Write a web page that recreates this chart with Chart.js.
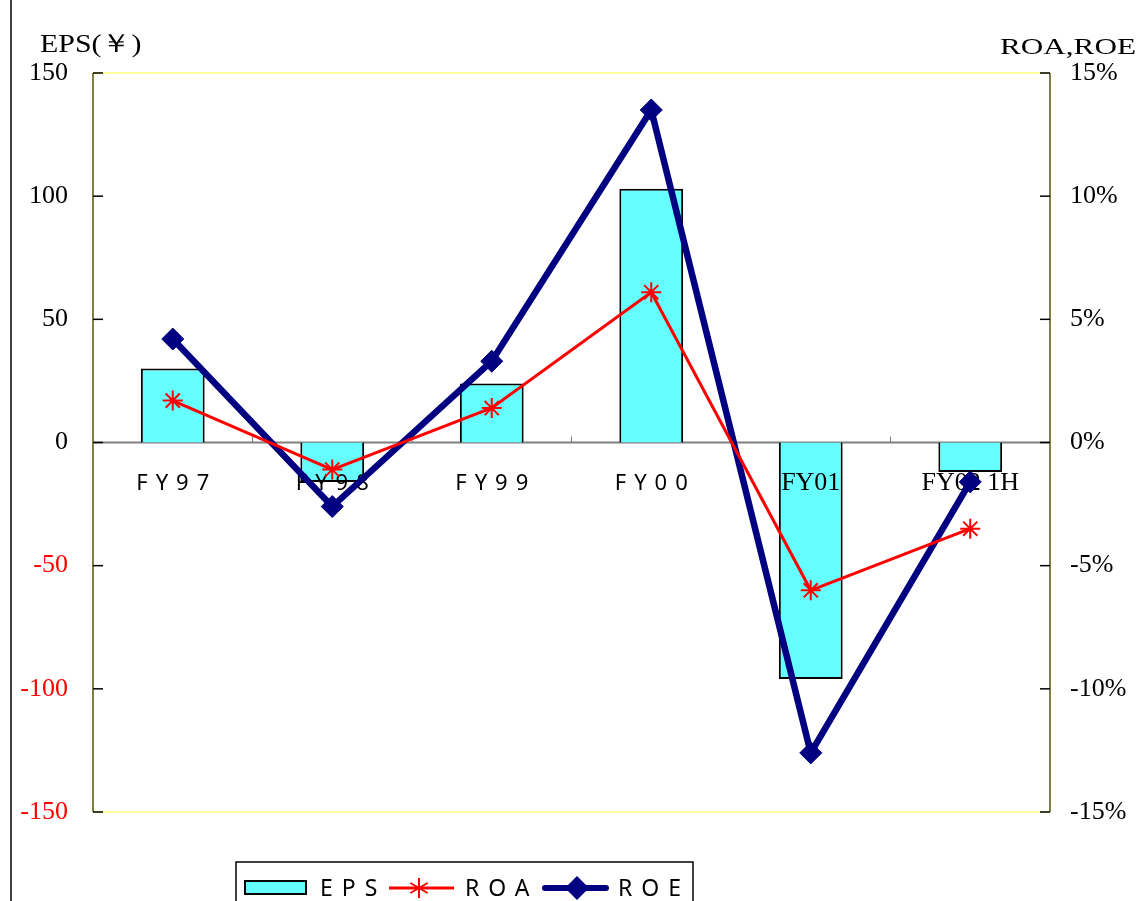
<!DOCTYPE html>
<html lang="en">
<head>
<meta charset="UTF-8">
<title>EPS / ROA / ROE</title>
<script src="https://cdn.jsdelivr.net/npm/chart.js@4.4.0/dist/chart.umd.min.js"></script>
<style>
    html, body { margin: 0; padding: 0; background: #ffffff; }
    canvas { display: block; }
</style>
</head>
<body>
<canvas id="chart" width="1140" height="901"></canvas>
<script>
    // values
    const categories = ['FY97', 'FY98', 'FY99', 'FY00', 'FY01', 'FY02 1H'];
    const eps = [30, -16, 24, 103, -96, -12];          // yen, left axis
    const roa = [1.7, -1.1, 1.4, 6.1, -6.0, -3.5];     // %, right axis
    const roe = [4.2, -2.6, 3.3, 13.5, -12.6, -1.6];   // %, right axis
    const epsRange = [-150, 150, 50];
    const pctRange = [-15, 15, 5];

    const SERIF = '"Liberation Serif", "Times New Roman", serif';
    const SANS = '"Noto Sans", "Open Sans", sans-serif';

    function spaced(ctx, px) {
        if ('letterSpacing' in ctx) ctx.letterSpacing = px + 'px';
    }

    // the original text is a bit wider than the font, so stretch it a little
    function wideText(ctx, text, x, y, sx) {
        ctx.save();
        ctx.translate(x, y);
        ctx.scale(sx, 1);
        ctx.fillText(text, 0, 0);
        ctx.restore();
    }

    // frame, zero line and the small inward ticks
    const framePlugin = {
        id: 'frame',
        beforeDatasetsDraw(chart) {
            const { ctx, chartArea: a, scales } = chart;
            const y = scales.y, y1 = scales.y1, x = scales.x;
            ctx.save();
            // left page rule
            ctx.strokeStyle = '#000000';
            ctx.lineWidth = 1.5;
            ctx.beginPath(); ctx.moveTo(11, 0); ctx.lineTo(11, chart.height); ctx.stroke();
            // top / bottom
            ctx.strokeStyle = '#ffff99';
            ctx.lineWidth = 2;
            ctx.beginPath();
            ctx.moveTo(a.left, a.top); ctx.lineTo(a.right, a.top);
            ctx.moveTo(a.left, a.bottom); ctx.lineTo(a.right, a.bottom);
            ctx.stroke();
            // left / right
            ctx.strokeStyle = '#808040';
            ctx.beginPath();
            ctx.moveTo(a.left, a.top); ctx.lineTo(a.left, a.bottom);
            ctx.moveTo(a.right, a.top); ctx.lineTo(a.right, a.bottom);
            ctx.stroke();
            // zero line
            const z = y.getPixelForValue(0);
            ctx.strokeStyle = '#808080';
            ctx.lineWidth = 2;
            ctx.beginPath(); ctx.moveTo(a.left, z); ctx.lineTo(a.right, z); ctx.stroke();
            // category boundary ticks
            ctx.lineWidth = 1;
            const step = x.getPixelForValue(1) - x.getPixelForValue(0);
            for (let i = 1; i < categories.length; i++) {
                const bx = x.getPixelForValue(i) - step / 2;
                ctx.beginPath(); ctx.moveTo(bx, z); ctx.lineTo(bx, z - 6); ctx.stroke();
            }
            // axis ticks
            ctx.strokeStyle = '#000000';
            ctx.lineWidth = 1.5;
            y.ticks.forEach(t => {
                const py = y.getPixelForValue(t.value);
                ctx.beginPath(); ctx.moveTo(a.left, py); ctx.lineTo(a.left + 10, py); ctx.stroke();
            });
            y1.ticks.forEach(t => {
                const py = y1.getPixelForValue(t.value);
                ctx.beginPath(); ctx.moveTo(a.right - 10, py); ctx.lineTo(a.right, py); ctx.stroke();
            });
            ctx.restore();
        },
        afterDatasetDraw(chart, args) {
            // category labels sit on the zero line, over the bars but under the lines
            if (args.index !== 0) return;
            const { ctx, scales } = chart;
            const z = scales.y.getPixelForValue(0);
            ctx.save();
            ctx.fillStyle = '#000000';
            ctx.textAlign = 'center';
            ctx.textBaseline = 'middle';
            categories.forEach((c, i) => {
                const px = scales.x.getPixelForValue(i);
                if (i < 4) {
                    ctx.font = '22px ' + SANS;
                    spaced(ctx, 8);
                    ctx.fillText(c, px + 4, z + 41);
                } else {
                    ctx.font = '26px ' + SERIF;
                    spaced(ctx, 0);
                    ctx.fillText(c, px, z + 41);
                }
            });
            ctx.restore();
        },
        afterDraw(chart) {
            const { ctx } = chart;
            ctx.save();
            // axis titles
            ctx.fillStyle = '#000000';
            ctx.textBaseline = 'middle';
            ctx.font = '26px ' + SERIF;
            ctx.textAlign = 'left';
            wideText(ctx, 'EPS(￥)', 40, 45, 1.15);
            ctx.font = '24px ' + SERIF;
            ctx.textAlign = 'right';
            wideText(ctx, 'ROA,ROE', 1136, 48, 1.3);

            // legend box
            ctx.strokeStyle = '#000000';
            ctx.lineWidth = 1.5;
            ctx.strokeRect(236, 862, 457, 60);
            const ly = 888;
            ctx.fillStyle = '#66ffff';
            ctx.fillRect(245, 881, 61, 13);
            ctx.lineWidth = 2;
            ctx.strokeRect(245, 881, 61, 13);

            ctx.strokeStyle = '#ff0000';
            ctx.lineWidth = 3;
            ctx.beginPath(); ctx.moveTo(389, ly); ctx.lineTo(454, ly); ctx.stroke();
            ctx.lineWidth = 2;
            ctx.beginPath();
            for (let k = 0; k < 4; k++) {
                const ang = Math.PI / 2 + k * Math.PI / 3;
                ctx.moveTo(419 - 10 * Math.cos(ang), ly - 10 * Math.sin(ang));
                ctx.lineTo(419 + 10 * Math.cos(ang), ly + 10 * Math.sin(ang));
            }
            ctx.stroke();

            ctx.strokeStyle = '#000080';
            ctx.fillStyle = '#000080';
            ctx.lineWidth = 6;
            ctx.lineCap = 'round';
            ctx.beginPath(); ctx.moveTo(545, ly); ctx.lineTo(606, ly); ctx.stroke();
            ctx.beginPath();
            ctx.moveTo(577, ly - 12); ctx.lineTo(589, ly); ctx.lineTo(577, ly + 12); ctx.lineTo(565, ly);
            ctx.closePath(); ctx.fill();

            ctx.fillStyle = '#000000';
            ctx.font = '23px ' + SANS;
            spaced(ctx, 9);
            ctx.textAlign = 'left';
            ctx.fillText('EPS', 320, ly + 1);
            ctx.fillText('ROA', 465, ly + 1);
            ctx.fillText('ROE', 618, ly + 1);
            ctx.restore();
        }
    };

    const ctx = document.getElementById('chart').getContext('2d');
    new Chart(ctx, {
        type: 'bar',
        data: {
            labels: categories,
            datasets: [{
                label: 'EPS',
                data: eps,
                yAxisID: 'y',
                backgroundColor: '#66ffff',
                borderColor: '#000000',
                borderWidth: 2,
                barPercentage: 0.4,
                categoryPercentage: 1.0,
                order: 3
            }, {
                type: 'line',
                label: 'ROA',
                data: roa,
                yAxisID: 'y1',
                borderColor: '#ff0000',
                borderWidth: 3,
                tension: 0,
                pointStyle: 'star',
                pointRadius: 10,
                pointBorderColor: '#ff0000',
                pointBorderWidth: 2,
                order: 1
            }, {
                type: 'line',
                label: 'ROE',
                data: roe,
                yAxisID: 'y1',
                borderColor: '#000080',
                borderWidth: 6.5,
                tension: 0,
                pointStyle: 'rectRot',
                pointRadius: 11,
                pointBackgroundColor: '#000080',
                pointBorderColor: '#000080',
                pointBorderWidth: 1,
                order: 2
            }]
        },
        options: {
            responsive: false,
            animation: false,
            layout: { padding: { top: 73, bottom: 89, left: 0, right: 0 } },
            plugins: { legend: { display: false }, tooltip: { enabled: false } },
            scales: {
                x: { display: false, offset: true, grid: { display: false } },
                y: {
                    position: 'left',
                    min: epsRange[0], max: epsRange[1],
                    afterFit: s => { s.width = 93; },
                    grid: { display: false, drawTicks: false },
                    border: { display: false },
                    ticks: {
                        stepSize: epsRange[2],
                        padding: 25,
                        font: { family: SERIF, size: 26 },
                        color: c => c.tick.value < 0 ? '#ff0000' : '#000000'
                    }
                },
                y1: {
                    position: 'right',
                    min: pctRange[0], max: pctRange[1],
                    afterFit: s => { s.width = 90; },
                    grid: { display: false, drawTicks: false },
                    border: { display: false },
                    ticks: {
                        stepSize: pctRange[2],
                        padding: 20,
                        font: { family: SERIF, size: 26 },
                        color: '#000000',
                        callback: v => v + '%'
                    }
                }
            }
        },
        plugins: [framePlugin]
    });
</script>
</body>
</html>
